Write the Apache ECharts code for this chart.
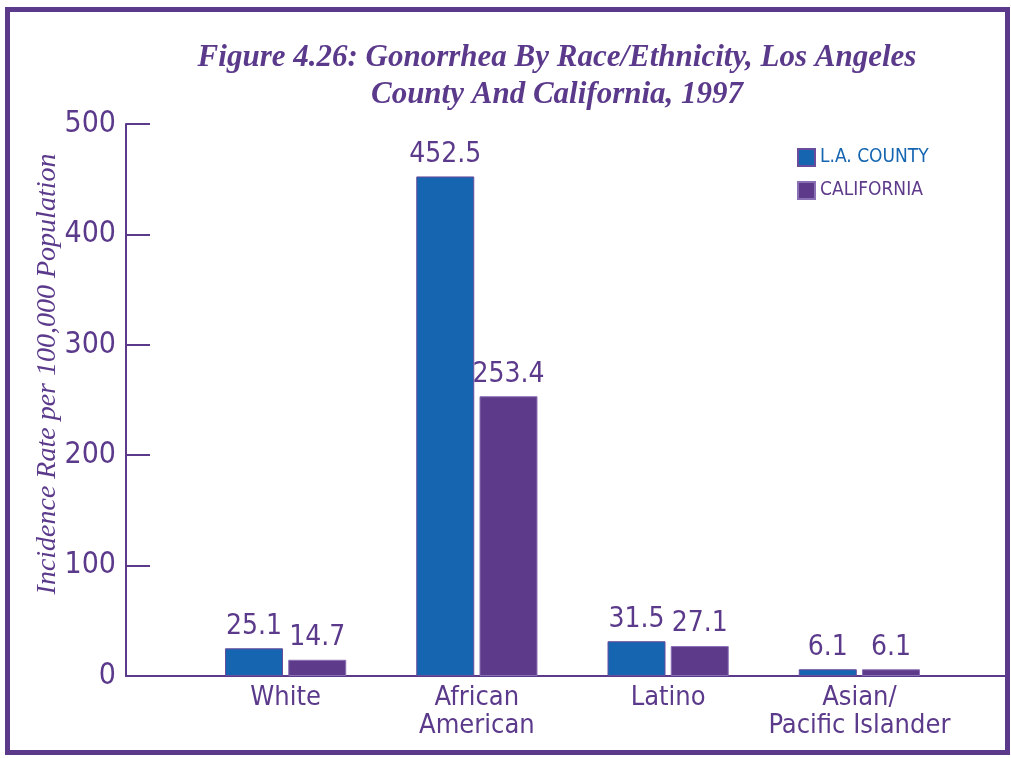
<!DOCTYPE html>
<html><head><meta charset="utf-8">
<script src="https://cdn.jsdelivr.net/npm/echarts@6/dist/echarts.min.js"></script>
<style>html,body{margin:0;padding:0;background:#fff}#c{width:1011px;height:758px}</style>
</head><body><div id="c"></div>
<script>
const categories = ['White', 'African\nAmerican', 'Latino', 'Asian/\nPacific Islander'];
const laCounty = [25.1, 452.5, 31.5, 6.1];
const california = [14.7, 253.4, 27.1, 6.1];
const seriesNames = ['L.A. COUNTY', 'CALIFORNIA'];
const yTicks = { min: 0, max: 500, interval: 100 };

const PURPLE = '#5b3a8b';
const BLUE = '#1565b1';
const BARPURPLE = '#5e3a8a';
const COND = '"DejaVu Sans Condensed", "DejaVu Sans", sans-serif';

const chart = echarts.init(document.getElementById('c'));
chart.setOption({
  animation: false,
  backgroundColor: '#fff',
  title: {
    text: 'Figure 4.26: Gonorrhea By Race/Ethnicity, Los Angeles\nCounty And California, 1997',
    left: 552, top: 34, textAlign: 'center',
    textStyle: { color: PURPLE, fontFamily: '"Liberation Serif", serif', fontStyle: 'italic', fontWeight: 'bold', fontSize: 31, lineHeight: 37 }
  },
  legend: {
    orient: 'vertical', left: 797, top: 148, itemWidth: 17, itemHeight: 17, itemGap: 14, padding: 0,
    icon: 'rect',
    data: [
      { name: seriesNames[0], textStyle: { color: BLUE } },
      { name: seriesNames[1], textStyle: { color: BARPURPLE } }
    ],
    textStyle: { fontFamily: COND, fontSize: 19 }
  },
  grid: [
    { left: 190, right: 56, top: 124, bottom: 82 },
    { left: 126, right: 5, top: 124, bottom: 82 }
  ],
  xAxis: [
    { type: 'category', gridIndex: 0, data: categories,
      axisLine: { show: false }, axisTick: { show: false },
      axisLabel: { interval: 0, color: PURPLE, fontFamily: COND, fontSize: 27, lineHeight: 28, margin: 8 } },
    { type: 'value', gridIndex: 1, min: 0, max: 1, show: true,
      axisLine: { show: true, lineStyle: { color: PURPLE, width: 2 } },
      axisTick: { show: false }, axisLabel: { show: false }, splitLine: { show: false } }
  ],
  yAxis: [
    { type: 'value', gridIndex: 0, min: yTicks.min, max: yTicks.max, interval: yTicks.interval, show: false },
    { type: 'value', gridIndex: 1, min: yTicks.min, max: yTicks.max, interval: yTicks.interval,
      name: 'Incidence Rate per 100,000 Population', nameLocation: 'middle', nameGap: 64, nameMoveOverlap: false,
      nameTextStyle: { color: PURPLE, fontFamily: '"Liberation Serif", serif', fontStyle: 'italic', fontSize: 28, padding: [0, 0, 0, 52] },
      axisLine: { show: true, lineStyle: { color: PURPLE, width: 2 } },
      axisTick: { show: true, inside: true, length: 24, lineStyle: { color: PURPLE, width: 2 } },
      axisLabel: { color: PURPLE, fontFamily: COND, fontSize: 30, margin: 10 },
      splitLine: { show: false } }
  ],
  series: [
    { name: seriesNames[0], type: 'bar', xAxisIndex: 0, yAxisIndex: 0, data: laCounty,
      barWidth: 58, barGap: '9%',
      itemStyle: { color: BLUE, borderColor: '#6a4c9c', borderWidth: 1 },
      label: { show: true, position: 'top', distance: 8, color: PURPLE, fontFamily: COND, fontSize: 28, formatter: p => p.value.toFixed(1) } },
    { name: seriesNames[1], type: 'bar', xAxisIndex: 0, yAxisIndex: 0, data: california,
      barWidth: 58,
      itemStyle: { color: BARPURPLE, borderColor: '#8a70b4', borderWidth: 1 },
      label: { show: true, position: 'top', distance: 8, color: PURPLE, fontFamily: COND, fontSize: 28, formatter: p => p.value.toFixed(1) } }
  ],
  graphic: [
    { type: 'rect', shape: { x: 7.5, y: 9.5, width: 1000, height: 743 },
      style: { fill: 'none', stroke: PURPLE, lineWidth: 5 }, z: 100 }
  ]
});
</script></body></html>
